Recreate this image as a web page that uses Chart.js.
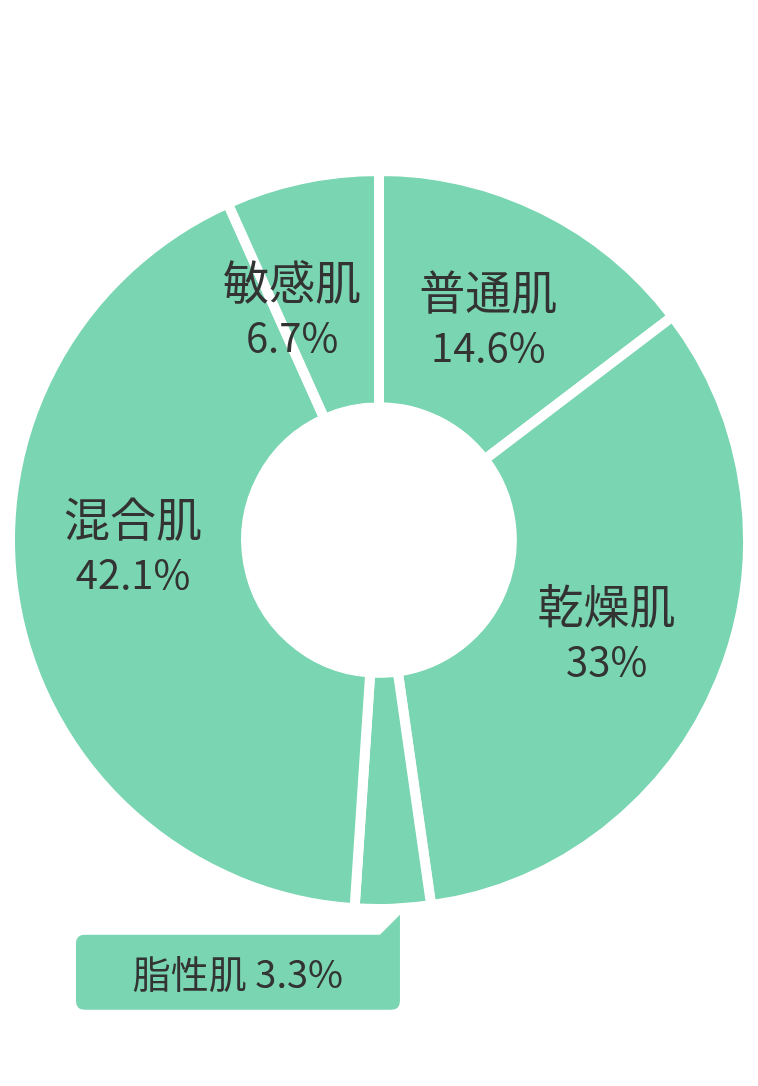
<!DOCTYPE html>
<html lang="ja">
<head>
<meta charset="utf-8">
<script src="https://cdn.jsdelivr.net/npm/chart.js@4"></script>
<style>
  html, body { margin: 0; padding: 0; background: #fff; }
  #wrap { width: 758px; height: 1086px; position: relative; }
</style>
</head>
<body>
<div id="wrap"><canvas id="chart"></canvas></div>
<script>
// 肌タイプの割合
const labels = ['普通肌', '乾燥肌', '脂性肌', '混合肌', '敏感肌'];
const values = [14.6, 33, 3.3, 42.1, 6.7];
const valueText = ['14.6%', '33%', '3.3%', '42.1%', '6.7%'];

const GREEN = '#79D5B2';
const TEXT = '#333333';
const FONT = '"Noto Sans CJK JP", "Noto Sans", sans-serif';

// labels drawn inside the ring; the thin slice gets a callout box instead
const sliceLabels = {
  id: 'sliceLabels',
  afterDatasetsDraw(chart, args, opts) {
    const ctx = chart.ctx;
    const meta = chart.getDatasetMeta(0);
    ctx.save();
    ctx.fillStyle = TEXT;
    ctx.textAlign = 'center';
    ctx.textBaseline = 'middle';
    meta.data.forEach((arc, i) => {
      if (i === opts.calloutIndex) return;
      const mid = (arc.startAngle + arc.endAngle) / 2 + (opts.angleShift[i] || 0);
      const r = opts.radius;
      const x = arc.x + Math.cos(mid) * r;
      const y = arc.y + Math.sin(mid) * r;
      ctx.font = '46px ' + FONT;
      ctx.fillText(labels[i], x, y - 28);
      ctx.font = '40px ' + FONT;
      ctx.fillText(valueText[i], x, y + 27);
    });

    // callout for the thin slice
    const arc = meta.data[opts.calloutIndex];
    const mid = (arc.startAngle + arc.endAngle) / 2;
    const tipX = arc.x + Math.cos(mid) * arc.outerRadius + 7;
    const tipY = arc.y + Math.sin(mid) * arc.outerRadius + 6;
    const right = tipX, top = tipY + 20, w = 324, h = 75, left = right - w, rad = 9;
    ctx.fillStyle = GREEN;
    ctx.beginPath();
    ctx.moveTo(left + rad, top);
    ctx.lineTo(right - 20, top);
    ctx.lineTo(right, tipY);
    ctx.lineTo(right, top + h - rad);
    ctx.quadraticCurveTo(right, top + h, right - rad, top + h);
    ctx.lineTo(left + rad, top + h);
    ctx.quadraticCurveTo(left, top + h, left, top + h - rad);
    ctx.lineTo(left, top + rad);
    ctx.quadraticCurveTo(left, top, left + rad, top);
    ctx.closePath();
    ctx.fill();
    ctx.fillStyle = TEXT;
    ctx.font = '38px ' + FONT;
    ctx.fillText(labels[opts.calloutIndex] + ' ' + valueText[opts.calloutIndex], left + w / 2, top + h / 2 + 1);
    ctx.restore();
  }
};

new Chart(document.getElementById('chart'), {
  type: 'doughnut',
  data: {
    labels,
    datasets: [{
      data: values,
      backgroundColor: GREEN,
      borderColor: '#ffffff',
      borderWidth: 10,
      borderJoinStyle: 'miter',
      hoverOffset: 0,
    }]
  },
  options: {
    responsive: true,
    maintainAspectRatio: false,
    animation: false,
    cutout: '36%',
    layout: { padding: { top: 166, bottom: 172, left: 5, right: 5 } },
    plugins: {
      legend: { display: false },
      tooltip: { enabled: false },
      sliceLabels: { radius: 246, calloutIndex: 2, angleShift: { 3: 0.15, 4: -0.15 } },
    }
  },
  plugins: [sliceLabels]
});
</script>
</body>
</html>
